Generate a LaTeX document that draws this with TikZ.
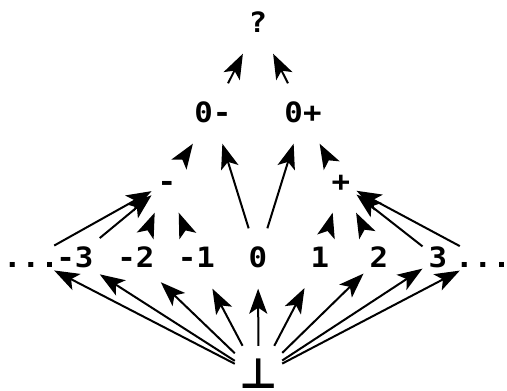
\documentclass[tikz,border=0pt]{standalone}
\usepackage{fontspec}
\usepackage{tikz}
\usetikzlibrary{arrows.meta}
\newfontfamily\lblfont{DejaVuSansMono-Bold.ttf}[FakeStretch=1.1]
\newfontfamily\botfont{DejaVuSans-Bold.ttf}

\begin{document}
\begin{tikzpicture}[
    x=1pt, y=-1pt,
    lbl/.style={font=\lblfont\fontsize{28pt}{32pt}\selectfont, inner xsep=6pt, inner ysep=0pt,
        text height=17pt, text depth=0pt, minimum height=60pt},
    flow/.style={-{Stealth[length=25pt, width=18pt, inset=6pt]}, line width=2pt},
]
\useasboundingbox (0,0) rectangle (507,391);

% fila de enteros
\node[lbl] (ld) at (31,258.5) {\makebox[34pt]{...}};
\node[lbl] (m3) at (75,258.5) {-3};
\node[lbl] (m2) at (136,258.5) {-2};
\node[lbl] (m1) at (196.5,258.5) {-1};
\node[lbl] (z) at (258,258.5) {0};
\node[lbl] (p1) at (320,258.5) {1};
\node[lbl] (p2) at (379,258.5) {2};
\node[lbl] (p3) at (438,258.5) {3};
\node[lbl] (rd) at (483,258.5) {\makebox[34pt]{...}};

% signos
\node[lbl] (neg) at (167,182.5) {-};
\node[lbl] (pos) at (341,182.5) {+};
\node[lbl] (zm) at (213,113.5) {0-};
\node[lbl] (zp) at (303,113.5) {0+};
\node[lbl] (q) at (258,23.5) {?};

% fondo
\node[lbl, font=\botfont\fontsize{42pt}{46pt}\selectfont, text height=24pt,
      inner xsep=0pt, minimum width=47pt] (bot) at (258.5,376) {⊥};

\foreach \n in {ld,m3,m2,m1,z,p1,p2,p3,rd}
    \draw[flow] (bot) -- (\n);
\foreach \n in {ld,m3,m2,m1}
    \draw[flow] (\n) -- (neg);
\foreach \n in {p1,p2,p3,rd}
    \draw[flow] (\n) -- (pos);
\foreach \n in {neg,z}
    \draw[flow] (\n) -- (zm);
\foreach \n in {z,pos}
    \draw[flow] (\n) -- (zp);
\foreach \n in {zm,zp}
    \draw[flow] (\n) -- (q);

\end{tikzpicture}
\end{document}
